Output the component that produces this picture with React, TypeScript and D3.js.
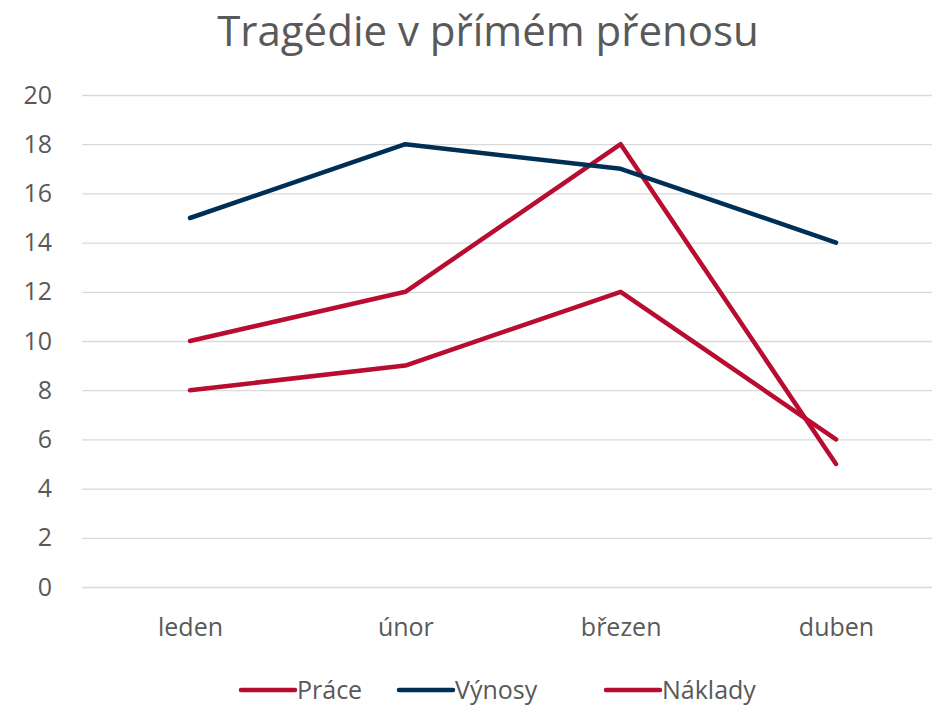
import React, { useEffect, useRef } from 'react';
import * as d3 from 'd3';

const categories = ['leden', 'únor', 'březen', 'duben'];
const prace = [10, 12, 18, 5];
const vynosy = [15, 18, 17, 14];
const naklady = [8, 9, 12, 6];
const yTicks = [0, 2, 4, 6, 8, 10, 12, 14, 16, 18, 20];

const seriesList = [
  { name: 'Práce', values: prace, color: '#B80D30' },
  { name: 'Výnosy', values: vynosy, color: '#002F56' },
  { name: 'Náklady', values: naklady, color: '#B80D30' },
];

const App: React.FC = () => {
  const svgRef = useRef<SVGSVGElement>(null);

  useEffect(() => {
    if (!svgRef.current) return;
    const font = '"Open Sans", "Noto Sans", sans-serif';
    const textColor = '#595959';

    const svg = d3.select(svgRef.current);
    svg.selectAll('*').remove();

    const left = 82;
    const right = 932;
    const x = d3.scalePoint<string>().domain(categories).range([190, 836]);
    const y = d3.scaleLinear().domain([0, 20]).range([587, 95]);

    // title
    svg.append('text')
      .attr('x', 488)
      .attr('y', 46)
      .attr('text-anchor', 'middle')
      .attr('fill', textColor)
      .attr('font-size', '42px')
      .style('font-family', font)
      .text('Tragédie v přímém přenosu');

    // y axis + gridlines
    const yAxis = svg.append('g')
      .attr('transform', `translate(${left},0)`)
      .call(d3.axisLeft(y).tickValues(yTicks).tickSize(-(right - left)).tickPadding(30));
    yAxis.select('.domain').remove();
    yAxis.selectAll('.tick line').attr('stroke', '#d9d9d9').attr('stroke-width', 1.3);
    yAxis.selectAll('.tick text')
      .attr('fill', textColor)
      .attr('font-size', '25px')
      .style('font-family', font);

    // x labels
    const xAxis = svg.append('g')
      .attr('transform', `translate(0,587)`)
      .call(d3.axisBottom(x).tickSize(0).tickPadding(31));
    xAxis.select('.domain').remove();
    xAxis.selectAll('.tick text')
      .attr('fill', textColor)
      .attr('font-size', '25px')
      .style('font-family', font);

    const line = d3.line<number>()
      .x((_, i) => x(categories[i]) as number)
      .y(d => y(d));

    seriesList.forEach(s => {
      svg.append('path')
        .datum(s.values)
        .attr('d', line)
        .attr('fill', 'none')
        .attr('stroke', s.color)
        .attr('stroke-width', 4.5)
        .attr('stroke-linecap', 'round')
        .attr('stroke-linejoin', 'round');
    });

    // legend
    const legendX = [241, 399, 606];
    const legend = svg.append('g').attr('transform', 'translate(0,690)');
    seriesList.forEach((s, i) => {
      legend.append('line')
        .attr('x1', legendX[i])
        .attr('x2', legendX[i] + 54)
        .attr('y1', 0)
        .attr('y2', 0)
        .attr('stroke', s.color)
        .attr('stroke-width', 4.5)
        .attr('stroke-linecap', 'round');
      legend.append('text')
        .attr('x', legendX[i] + 56)
        .attr('y', 0)
        .attr('dy', '0.35em')
        .attr('fill', textColor)
        .attr('font-size', '25px')
        .style('font-family', font)
        .text(s.name);
    });
  }, []);

  return <svg ref={svgRef} width={935} height={708} viewBox="0 0 935 708" style={{ display: 'block', position: 'absolute', left: 0, top: 0 }} />;
};

export default App;
